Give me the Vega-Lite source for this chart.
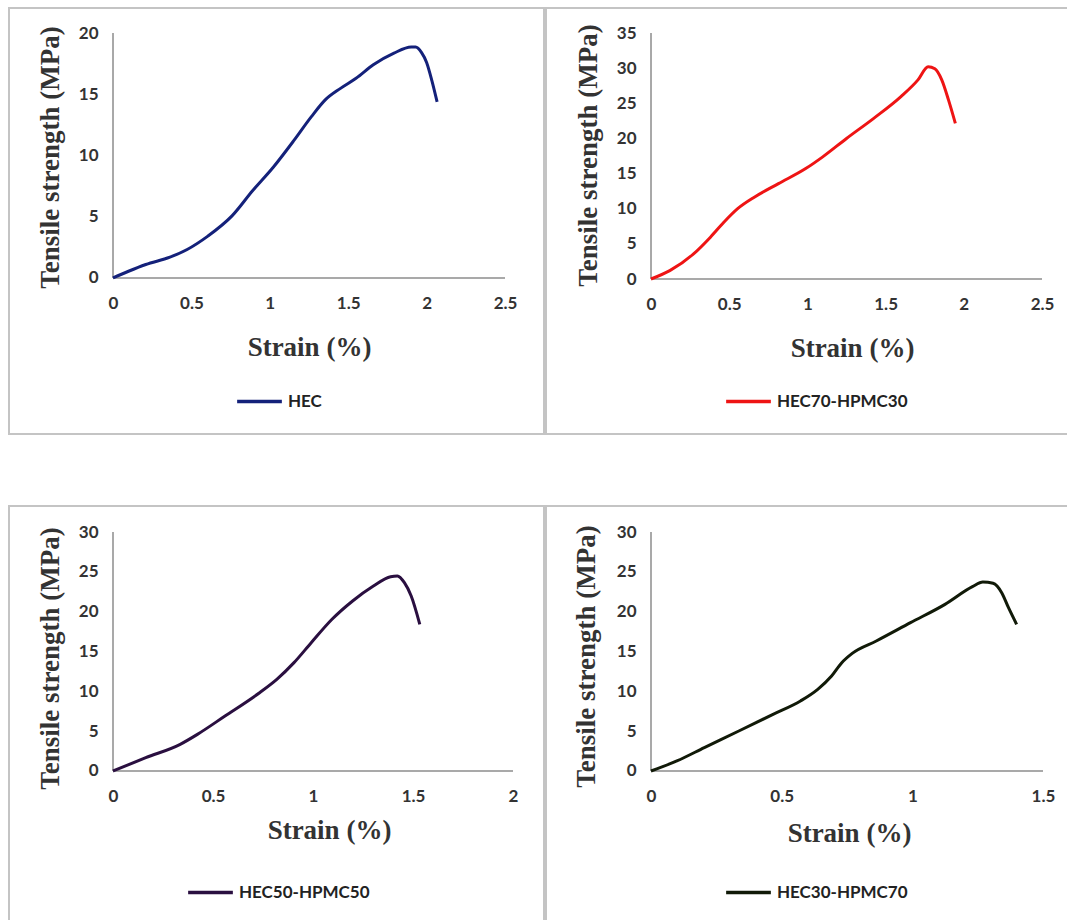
{
  "$schema": "https://vega.github.io/schema/vega-lite/v6.json",
  "background": "white",
  "padding": {"left": 8, "top": 7, "right": 0, "bottom": 0},
  "config": {
    "view": {"stroke": "#c4c4c4", "strokeWidth": 2},
    "axis": {"grid": false, "domain": false, "ticks": false, "tickSize": 0, "labelExpr": "'' + datum.value",
      "labelFont": "Lato", "labelFontWeight": "bold", "labelFontSize": 17, "labelColor": "#333333",
      "titleFont": "Liberation Serif", "titleFontSize": 27, "titleFontWeight": "bold", "titleColor": "#333333",
      "titleAlign": "center", "titleBaseline": "middle"},
    "axisY": {"labelPadding": 15},
    "axisX": {"labelPadding": 17, "labelBaseline": "top"},
    "legend": {"symbolType": "stroke", "symbolStrokeWidth": 3.5, "symbolSize": 2000,
      "labelFont": "Lato", "labelFontWeight": "bold", "labelFontSize": 17, "labelColor": "#222222",
      "labelOffset": 4, "padding": 0, "title": null}
  },
  "datasets": {
    "hec": [
      {"strain": 0, "stress": 0, "series": "HEC"},
      {"strain": 0.099, "stress": 0.55, "series": "HEC"},
      {"strain": 0.209, "stress": 1.1, "series": "HEC"},
      {"strain": 0.363, "stress": 1.7, "series": "HEC"},
      {"strain": 0.473, "stress": 2.33, "series": "HEC"},
      {"strain": 0.605, "stress": 3.42, "series": "HEC"},
      {"strain": 0.759, "stress": 5.07, "series": "HEC"},
      {"strain": 0.89, "stress": 7.12, "series": "HEC"},
      {"strain": 1.022, "stress": 9.04, "series": "HEC"},
      {"strain": 1.154, "stress": 11.23, "series": "HEC"},
      {"strain": 1.264, "stress": 13.15, "series": "HEC"},
      {"strain": 1.352, "stress": 14.52, "series": "HEC"},
      {"strain": 1.451, "stress": 15.48, "series": "HEC"},
      {"strain": 1.55, "stress": 16.3, "series": "HEC"},
      {"strain": 1.66, "stress": 17.4, "series": "HEC"},
      {"strain": 1.792, "stress": 18.36, "series": "HEC"},
      {"strain": 1.902, "stress": 18.85, "series": "HEC"},
      {"strain": 1.93, "stress": 18.85, "series": "HEC"},
      {"strain": 1.968, "stress": 18.4, "series": "HEC"},
      {"strain": 2.0, "stress": 17.6, "series": "HEC"},
      {"strain": 2.034, "stress": 16.1, "series": "HEC"},
      {"strain": 2.067, "stress": 14.38, "series": "HEC"}
    ],
    "hec70": [
      {"strain": 0, "stress": 0, "series": "HEC70-HPMC30"},
      {"strain": 0.12, "stress": 1.19, "series": "HEC70-HPMC30"},
      {"strain": 0.272, "stress": 3.57, "series": "HEC70-HPMC30"},
      {"strain": 0.38, "stress": 5.95, "series": "HEC70-HPMC30"},
      {"strain": 0.467, "stress": 8.1, "series": "HEC70-HPMC30"},
      {"strain": 0.554, "stress": 10.0, "series": "HEC70-HPMC30"},
      {"strain": 0.663, "stress": 11.67, "series": "HEC70-HPMC30"},
      {"strain": 0.815, "stress": 13.57, "series": "HEC70-HPMC30"},
      {"strain": 0.989, "stress": 15.71, "series": "HEC70-HPMC30"},
      {"strain": 1.098, "stress": 17.38, "series": "HEC70-HPMC30"},
      {"strain": 1.25, "stress": 20.0, "series": "HEC70-HPMC30"},
      {"strain": 1.424, "stress": 22.86, "series": "HEC70-HPMC30"},
      {"strain": 1.598, "stress": 25.95, "series": "HEC70-HPMC30"},
      {"strain": 1.707, "stress": 28.33, "series": "HEC70-HPMC30"},
      {"strain": 1.772, "stress": 30.2, "series": "HEC70-HPMC30"},
      {"strain": 1.815, "stress": 29.9, "series": "HEC70-HPMC30"},
      {"strain": 1.859, "stress": 28.33, "series": "HEC70-HPMC30"},
      {"strain": 1.902, "stress": 25.48, "series": "HEC70-HPMC30"},
      {"strain": 1.946, "stress": 22.14, "series": "HEC70-HPMC30"}
    ],
    "hec50": [
      {"strain": 0, "stress": 0, "series": "HEC50-HPMC50"},
      {"strain": 0.164, "stress": 1.67, "series": "HEC50-HPMC50"},
      {"strain": 0.336, "stress": 3.35, "series": "HEC50-HPMC50"},
      {"strain": 0.422, "stress": 4.6, "series": "HEC50-HPMC50"},
      {"strain": 0.56, "stress": 6.9, "series": "HEC50-HPMC50"},
      {"strain": 0.733, "stress": 9.83, "series": "HEC50-HPMC50"},
      {"strain": 0.819, "stress": 11.5, "series": "HEC50-HPMC50"},
      {"strain": 0.905, "stress": 13.6, "series": "HEC50-HPMC50"},
      {"strain": 0.991, "stress": 16.1, "series": "HEC50-HPMC50"},
      {"strain": 1.095, "stress": 19.04, "series": "HEC50-HPMC50"},
      {"strain": 1.198, "stress": 21.34, "series": "HEC50-HPMC50"},
      {"strain": 1.302, "stress": 23.22, "series": "HEC50-HPMC50"},
      {"strain": 1.388, "stress": 24.39, "series": "HEC50-HPMC50"},
      {"strain": 1.422, "stress": 24.48, "series": "HEC50-HPMC50"},
      {"strain": 1.457, "stress": 23.64, "series": "HEC50-HPMC50"},
      {"strain": 1.491, "stress": 21.97, "series": "HEC50-HPMC50"},
      {"strain": 1.534, "stress": 18.41, "series": "HEC50-HPMC50"}
    ],
    "hec30": [
      {"strain": 0, "stress": 0, "series": "HEC30-HPMC70"},
      {"strain": 0.099, "stress": 1.26, "series": "HEC30-HPMC70"},
      {"strain": 0.204, "stress": 2.93, "series": "HEC30-HPMC70"},
      {"strain": 0.336, "stress": 5.02, "series": "HEC30-HPMC70"},
      {"strain": 0.467, "stress": 7.11, "series": "HEC30-HPMC70"},
      {"strain": 0.572, "stress": 8.79, "series": "HEC30-HPMC70"},
      {"strain": 0.638, "stress": 10.25, "series": "HEC30-HPMC70"},
      {"strain": 0.691, "stress": 11.92, "series": "HEC30-HPMC70"},
      {"strain": 0.73, "stress": 13.6, "series": "HEC30-HPMC70"},
      {"strain": 0.77, "stress": 14.77, "series": "HEC30-HPMC70"},
      {"strain": 0.862, "stress": 16.32, "series": "HEC30-HPMC70"},
      {"strain": 0.993, "stress": 18.62, "series": "HEC30-HPMC70"},
      {"strain": 1.125, "stress": 20.92, "series": "HEC30-HPMC70"},
      {"strain": 1.23, "stress": 23.14, "series": "HEC30-HPMC70"},
      {"strain": 1.27, "stress": 23.72, "series": "HEC30-HPMC70"},
      {"strain": 1.309, "stress": 23.56, "series": "HEC30-HPMC70"},
      {"strain": 1.342, "stress": 22.38, "series": "HEC30-HPMC70"},
      {"strain": 1.368, "stress": 20.5, "series": "HEC30-HPMC70"},
      {"strain": 1.399, "stress": 18.41, "series": "HEC30-HPMC70"}
    ],
    "axes1": [{"strain": 0, "stress": 0, "strain2": 2.5, "stress2": 0}, {"strain": 0, "stress": 0, "strain2": 0, "stress2": 20}],
    "axes2": [{"strain": 0, "stress": 0, "strain2": 2.5, "stress2": 0}, {"strain": 0, "stress": 0, "strain2": 0, "stress2": 35}],
    "axes3": [{"strain": 0, "stress": 0, "strain2": 2, "stress2": 0}, {"strain": 0, "stress": 0, "strain2": 0, "stress2": 30}],
    "axes4": [{"strain": 0, "stress": 0, "strain2": 1.5, "stress2": 0}, {"strain": 0, "stress": 0, "strain2": 0, "stress2": 30}]
  },
  "spacing": 70,
  "resolve": {"scale": {"x": "independent", "y": "independent", "color": "independent"}, "legend": {"color": "independent"}, "axis": {"x": "independent", "y": "independent"}},
  "vconcat": [
    {
      "spacing": 0,
      "resolve": {"scale": {"x": "independent", "y": "independent", "color": "independent"}, "legend": {"color": "independent"}, "axis": {"x": "independent", "y": "independent"}},
      "hconcat": [
        {
          "width": 535, "height": 426,
          "encoding": {
            "x": {"field": "strain", "type": "quantitative",
              "scale": {"domain": [-0.6633, 2.7487], "nice": false, "zero": false},
              "axis": {"offset": -156, "values": [0, 0.5, 1, 1.5, 2, 2.5], "title": "Strain (%)", "titleX": 300, "titleY": 69}},
            "y": {"field": "stress", "type": "quantitative",
              "scale": {"domain": [-12.735, 22.041], "nice": false, "zero": false},
              "axis": {"offset": -104, "values": [0, 5, 10, 15, 20], "title": "Tensile strength (MPa)", "titleX": -63, "titleY": 149}}
          },
          "layer": [
            {"data": {"name": "axes1"}, "mark": {"type": "rule", "color": "#8c8c8c", "strokeWidth": 1.5},
             "encoding": {"x2": {"field": "strain2"}, "y2": {"field": "stress2"}}},
            {"data": {"name": "hec"}, "mark": {"type": "line", "strokeWidth": 3, "interpolate": "monotone"},
             "encoding": {"color": {"field": "series", "type": "nominal",
               "scale": {"domain": ["HEC"], "range": ["#14217a"]},
               "legend": {"orient": "none", "legendX": 226, "legendY": 369}}}}
          ]
        },
        {
          "width": 523, "height": 426,
          "encoding": {
            "x": {"field": "strain", "type": "quantitative",
              "scale": {"domain": [-0.6714, 2.6726], "nice": false, "zero": false},
              "axis": {"offset": -155, "values": [0, 0.5, 1, 1.5, 2, 2.5], "title": "Strain (%)", "titleX": 306, "titleY": 69}},
            "y": {"field": "stress", "type": "quantitative",
              "scale": {"domain": [-22.05, 38.557], "nice": false, "zero": false},
              "axis": {"offset": -105, "values": [0, 5, 10, 15, 20, 25, 30, 35], "title": "Tensile strength (MPa)", "titleX": -63, "titleY": 147}}
          },
          "layer": [
            {"data": {"name": "axes2"}, "mark": {"type": "rule", "color": "#8c8c8c", "strokeWidth": 1.5},
             "encoding": {"x2": {"field": "strain2"}, "y2": {"field": "stress2"}}},
            {"data": {"name": "hec70"}, "mark": {"type": "line", "strokeWidth": 3, "interpolate": "monotone"},
             "encoding": {"color": {"field": "series", "type": "nominal",
               "scale": {"domain": ["HEC70-HPMC30"], "range": ["#ee1414"]},
               "legend": {"orient": "none", "legendX": 178, "legendY": 369}}}}
          ]
        }
      ]
    },
    {
      "spacing": 0,
      "resolve": {"scale": {"x": "independent", "y": "independent", "color": "independent"}, "legend": {"color": "independent"}, "axis": {"x": "independent", "y": "independent"}},
      "hconcat": [
        {
          "width": 535, "height": 415,
          "encoding": {
            "x": {"field": "strain", "type": "quantitative",
              "scale": {"domain": [-0.52, 2.155], "nice": false, "zero": false},
              "axis": {"offset": -150, "values": [0, 0.5, 1, 1.5, 2], "title": "Strain (%)", "titleX": 320, "titleY": 59}},
            "y": {"field": "stress", "type": "quantitative",
              "scale": {"domain": [-18.83, 33.264], "nice": false, "zero": false},
              "axis": {"offset": -104, "values": [0, 5, 10, 15, 20, 25, 30], "title": "Tensile strength (MPa)", "titleX": -63, "titleY": 152}}
          },
          "layer": [
            {"data": {"name": "axes3"}, "mark": {"type": "rule", "color": "#8c8c8c", "strokeWidth": 1.5},
             "encoding": {"x2": {"field": "strain2"}, "y2": {"field": "stress2"}}},
            {"data": {"name": "hec50"}, "mark": {"type": "line", "strokeWidth": 3, "interpolate": "monotone"},
             "encoding": {"color": {"field": "series", "type": "nominal",
               "scale": {"domain": ["HEC50-HPMC50"], "range": ["#2a0f40"]},
               "legend": {"orient": "none", "legendX": 177, "legendY": 362}}}}
          ]
        },
        {
          "width": 523, "height": 415,
          "encoding": {
            "x": {"field": "strain", "type": "quantitative",
              "scale": {"domain": [-0.4018, 1.5995], "nice": false, "zero": false},
              "axis": {"offset": -150, "values": [0, 0.5, 1, 1.5], "title": "Strain (%)", "titleX": 303, "titleY": 62}},
            "y": {"field": "stress", "type": "quantitative",
              "scale": {"domain": [-18.83, 33.264], "nice": false, "zero": false},
              "axis": {"offset": -105, "values": [0, 5, 10, 15, 20, 25, 30], "title": "Tensile strength (MPa)", "titleX": -65, "titleY": 150}}
          },
          "layer": [
            {"data": {"name": "axes4"}, "mark": {"type": "rule", "color": "#8c8c8c", "strokeWidth": 1.5},
             "encoding": {"x2": {"field": "strain2"}, "y2": {"field": "stress2"}}},
            {"data": {"name": "hec30"}, "mark": {"type": "line", "strokeWidth": 3, "interpolate": "monotone"},
             "encoding": {"color": {"field": "series", "type": "nominal",
               "scale": {"domain": ["HEC30-HPMC70"], "range": ["#111a08"]},
               "legend": {"orient": "none", "legendX": 178, "legendY": 362}}}}
          ]
        }
      ]
    }
  ]
}
